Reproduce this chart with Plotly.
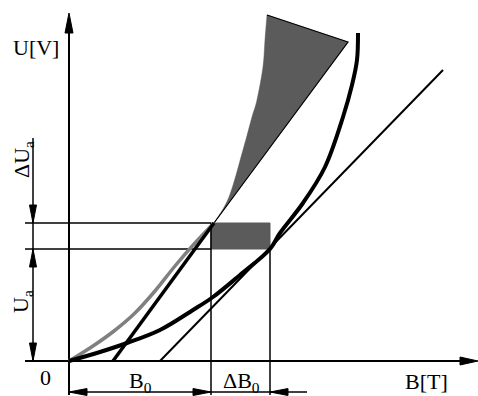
import plotly.graph_objects as go

# Data coordinates: B (horizontal) and U (vertical), origin at the axes crossing
grey_B = [0, 24, 45, 66, 86, 106, 126, 145]
grey_U = [0, 15, 30, 48, 70, 95, 118, 138]
band_B = [145, 160, 174, 183, 188, 194, 196, 198]
band_U = [138, 164, 211, 244, 261, 294, 321, 346]
band_corner_B = 279
band_corner_U = 319
chord_B = [44, 145]
chord_U = [0, 138]
curve_B = [0, 31, 58, 91, 124, 144, 171, 201, 211, 234, 256, 274, 283, 288, 289]
curve_U = [0, 9, 18, 31, 51, 64, 86, 112, 128, 158, 194, 244, 276, 301, 328]
tangent_B = [91, 374]
tangent_U = [0, 291]
B0 = 142          # operating point B0
B1 = 201          # B0 + dB0
Ua = 112          # Ua
Ua1 = 138         # Ua + dUa
Ua_top = 223      # top of dimension line
axis_U_max = 348
axis_B_max = 409
ext_min = -34     # bottom of extension lines
ext_left = -44    # left end of horizontal extension lines
dimU_B = -36      # B position of the U dimension line
dimB_U = -31      # U position of the B dimension line
dimB_end = 238

BLACK = "#000000"
GREY = "#808080"
DARK = "#5b5b5b"

fig = go.Figure()


def line(xs, ys, w, color=BLACK, shape="linear"):
    fig.add_trace(go.Scatter(x=xs, y=ys, mode="lines",
                             line=dict(color=color, width=w, shape=shape),
                             hoverinfo="skip", showlegend=False))


def arrow(tx, ty, dx, dy, L=18, W=7):
    bx, by = tx - dx * L, ty - dy * L
    px, py = -dy * W / 2, dx * W / 2
    xs = [tx, bx + px, bx - px, tx]
    ys = [ty, by + py, by - py, ty]
    fig.add_trace(go.Scatter(x=xs, y=ys, mode="lines", fill="toself",
                             fillcolor=BLACK, line=dict(color=BLACK, width=1),
                             hoverinfo="skip", showlegend=False))


def smooth_path(xs, ys):
    """SVG path through the points using Catmull-Rom -> cubic Bezier segments."""
    pts = list(zip(xs, ys))
    d = f"M {pts[0][0]},{pts[0][1]}"
    for i in range(len(pts) - 1):
        p0 = pts[i - 1] if i > 0 else pts[i]
        p1, p2 = pts[i], pts[i + 1]
        p3 = pts[i + 2] if i + 2 < len(pts) else pts[i + 1]
        c1 = (p1[0] + (p2[0] - p0[0]) / 6, p1[1] + (p2[1] - p0[1]) / 6)
        c2 = (p2[0] - (p3[0] - p1[0]) / 6, p2[1] - (p3[1] - p1[1]) / 6)
        d += f" C {c1[0]:.2f},{c1[1]:.2f} {c2[0]:.2f},{c2[1]:.2f} {p2[0]},{p2[1]}"
    return d


# dark band between the grey curve and the chord
band_path = smooth_path(band_B, band_U) + f" L {band_corner_B},{band_corner_U} Z"
fig.add_shape(type="path", path=band_path, xref="x", yref="y",
              fillcolor=DARK, line=dict(color=DARK, width=0.5), layer="below")
line([band_B[-1], band_corner_B, chord_B[1]], [band_U[-1], band_corner_U, chord_U[1]], 1.2)

# rectangle dB0 x dUa
fig.add_trace(go.Scatter(x=[B0, B1, B1, B0, B0], y=[Ua, Ua, Ua1, Ua1, Ua],
                         mode="lines", fill="toself", fillcolor=DARK,
                         line=dict(color=DARK, width=1),
                         hoverinfo="skip", showlegend=False))

# extension lines
line([ext_left, B0], [Ua, Ua], 1.5)
line([ext_left, B0], [Ua1, Ua1], 1.5)
line([B0, B0], [Ua1, ext_min], 1.5)
line([B1, B1], [Ua, ext_min], 1.5)

# axes
line([0, 0], [ext_min, axis_U_max - 10], 2)
line([ext_left, axis_B_max - 10], [0, 0], 2)
arrow(0, axis_U_max, 0, 1, L=20, W=8)
arrow(axis_B_max, 0, 1, 0, L=18, W=8)

# curves
line(grey_B, grey_U, 3.5, GREY, "spline")
line(chord_B, chord_U, 3.5)
line(curve_B, curve_U, 4, BLACK, "spline")
line(tangent_B, tangent_U, 2)

# dimension lines
line([dimU_B, dimU_B], [0, Ua_top], 1.5)
arrow(dimU_B, 0, 0, -1)
arrow(dimU_B, Ua, 0, 1)
arrow(dimU_B, Ua1, 0, -1)
line([0, dimB_end], [dimB_U, dimB_U], 1.5)
arrow(0, dimB_U, -1, 0)
arrow(B0, dimB_U, 1, 0)
arrow(B1, dimB_U, -1, 0)

FONT = dict(family="Liberation Serif, Times New Roman, serif", size=22, color=BLACK)
labels = [
    ("U[V]", -33, 314, 0),
    ("0", -24, -16, 0),
    ("B[T]", 357, -20, 0),
    ("B<sub>0</sub>", 71, -21, 0),
    ("ΔB<sub>0</sub>", 172, -21, 0),
    ("U<sub>a</sub>", -47, 59, -90),
    ("ΔU<sub>a</sub>", -46, 201, -90),
]
for t, x, y, a in labels:
    fig.add_annotation(x=x, y=y, text=t, showarrow=False, textangle=a,
                       font=FONT, xanchor="center", yanchor="middle")

fig.update_layout(width=478, height=396, margin=dict(l=0, r=0, t=0, b=0),
                  paper_bgcolor="white", plot_bgcolor="white",
                  xaxis=dict(range=[-69, 409], visible=False, fixedrange=True),
                  yaxis=dict(range=[-35, 361], visible=False, fixedrange=True),
                  showlegend=False)

fig.write_html("out.html", config={"displayModeBar": False},
               post_script="document.body.style.margin='0';document.body.style.overflow='hidden';")
